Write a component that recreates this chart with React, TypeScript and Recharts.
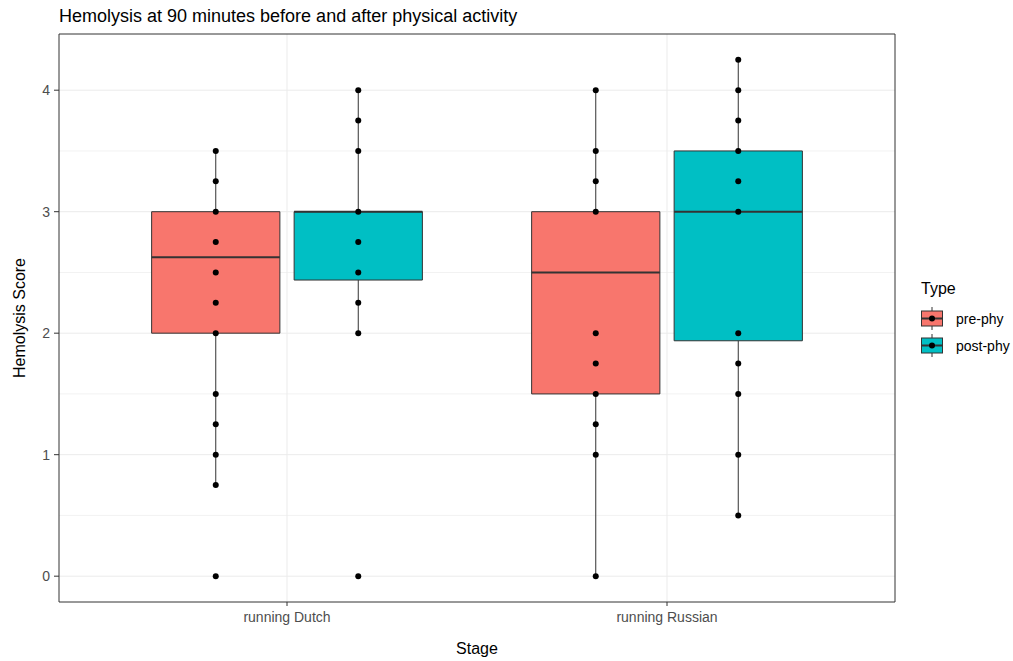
import React from 'react';
import {
  ComposedChart,
  XAxis,
  YAxis,
  CartesianGrid,
  Scatter,
  ReferenceArea,
  ReferenceLine
} from 'recharts';

const stages = ['running Dutch', 'running Russian'];
const types = ['pre-phy', 'post-phy'];
const typeColors = ['#F8766D', '#00BFC4'];

// one entry per box: Dutch pre, Dutch post, Russian pre, Russian post
const boxStage = [0, 0, 1, 1];
const boxType = [0, 1, 0, 1];
const whiskerLow = [0.75, 2.0, 0, 0.5];
const q1 = [2.0, 2.4375, 1.5, 1.9375];
const medians = [2.625, 3.0, 2.5, 3.0];
const q3 = [3.0, 3.0, 3.0, 3.5];
const whiskerHigh = [3.5, 4.0, 4.0, 4.25];

const dutchPre = [0, 0.75, 1, 1.25, 1.5, 2, 2.25, 2.5, 2.75, 3, 3.25, 3.5];
const dutchPost = [0, 2, 2.25, 2.5, 2.75, 3, 3.5, 3.75, 4];
const russianPre = [0, 1, 1.25, 1.5, 1.75, 2, 3, 3.25, 3.5, 4];
const russianPost = [0.5, 1, 1.5, 1.75, 2, 3, 3.25, 3.5, 3.75, 4, 4.25];
const boxPoints = [dutchPre, dutchPost, russianPre, russianPost];

const yTicks = [0, 1, 2, 3, 4];
const yMinor = [0.5, 1.5, 2.5, 3.5];

const FONT = '"Liberation Sans", Arial, sans-serif';
const DODGE = 0.1875;
const HALF = 0.16875;

const boxes = boxStage.map((s, i) => {
  const x = s + 1 + (boxType[i] === 0 ? -DODGE : DODGE);
  return {
    x,
    lo: whiskerLow[i],
    q1: q1[i],
    med: medians[i],
    q3: q3[i],
    hi: whiskerHigh[i],
    color: typeColors[boxType[i]]
  };
});

const pointData = boxes.flatMap((b, i) => boxPoints[i].map((y) => ({ x: b.x, y })));

function LegendKey({ color }: { color: string }) {
  return (
    <svg width={24} height={27} style={{ display: 'block' }}>
      <line x1={12} x2={12} y1={2} y2={25} stroke="#333" strokeWidth={1} />
      <rect x={1.5} y={6} width={21} height={15} fill={color} stroke="#333" strokeWidth={1} />
      <line x1={1.5} x2={22.5} y1={13.5} y2={13.5} stroke="#333" strokeWidth={2} />
      <circle cx={12} cy={13.5} r={3} fill="#000" />
    </svg>
  );
}

export default function App() {
  return (
    <div style={{ position: 'absolute', left: 0, top: 0, width: 1013, height: 661, background: '#fff', fontFamily: FONT }}>
      <div style={{ position: 'absolute', left: 59, top: 7, fontSize: 18, lineHeight: '18px', color: '#000', whiteSpace: 'nowrap' }}>
        Hemolysis at 90 minutes before and after physical activity
      </div>

      <ComposedChart width={1013} height={661} margin={{ top: 34, right: 118, bottom: 0, left: 0 }}>
        <CartesianGrid stroke="#f2f2f2" strokeWidth={1} horizontalValues={yMinor} vertical={false} />
        <CartesianGrid stroke="#ebebeb" strokeWidth={1} horizontalValues={yTicks} verticalValues={[1, 2]} />
        <XAxis
          type="number"
          dataKey="x"
          domain={[0.4, 2.6]}
          ticks={[1, 2]}
          allowDataOverflow
          tickFormatter={(v) => stages[Math.round(v) - 1]}
          height={59}
          axisLine={false}
          tickSize={4}
          tickMargin={6}
          tickLine={{ stroke: '#333' }}
          tick={{ fill: '#4d4d4d', fontSize: 14, fontFamily: FONT }}
          label={{ value: 'Stage', position: 'insideBottom', offset: 7, fill: '#000', fontSize: 16, fontFamily: FONT }}
        />
        <YAxis
          type="number"
          dataKey="y"
          domain={[-0.2125, 4.4625]}
          ticks={yTicks}
          allowDataOverflow
          width={59}
          axisLine={false}
          tickSize={5}
          tickMargin={4}
          tickLine={{ stroke: '#333' }}
          tick={{ fill: '#4d4d4d', fontSize: 14, fontFamily: FONT }}
          label={{
            value: 'Hemolysis Score',
            angle: -90,
            position: 'insideLeft',
            offset: 19,
            fill: '#000',
            fontSize: 16,
            fontFamily: FONT,
            style: { textAnchor: 'middle' }
          }}
        />
        {boxes.map((b, i) => (
          <ReferenceLine key={`wl-${i}`} segment={[{ x: b.x, y: b.lo }, { x: b.x, y: b.q1 }]} stroke="#333" strokeWidth={1} />
        ))}
        {boxes.map((b, i) => (
          <ReferenceLine key={`wh-${i}`} segment={[{ x: b.x, y: b.q3 }, { x: b.x, y: b.hi }]} stroke="#333" strokeWidth={1} />
        ))}
        {boxes.map((b, i) => (
          <ReferenceArea
            key={`box-${i}`}
            x1={b.x - HALF}
            x2={b.x + HALF}
            y1={b.q1}
            y2={b.q3}
            fill={b.color}
            fillOpacity={1}
            stroke="#333"
            strokeWidth={1}
          />
        ))}
        {boxes.map((b, i) => (
          <ReferenceLine key={`med-${i}`} segment={[{ x: b.x - HALF, y: b.med }, { x: b.x + HALF, y: b.med }]} stroke="#333" strokeWidth={2} />
        ))}
        <ReferenceArea x1={0.4} x2={2.6} y1={-0.2125} y2={4.4625} fill="none" stroke="#333" strokeWidth={1} />
        <Scatter
          data={pointData}
          isAnimationActive={false}
          shape={(p: any) => <circle cx={p.cx} cy={p.cy} r={3} fill="#000" />}
        />
      </ComposedChart>

      <div style={{ position: 'absolute', left: 921, top: 279, fontSize: 16, lineHeight: '20px', color: '#000' }}>Type</div>
      {types.map((t, i) => (
        <div key={t} style={{ position: 'absolute', left: 920, top: 305 + i * 27, display: 'flex', alignItems: 'center', height: 27 }}>
          <LegendKey color={typeColors[i]} />
          <span style={{ marginLeft: 12, fontSize: 14, color: '#000' }}>{t}</span>
        </div>
      ))}
    </div>
  );
}
